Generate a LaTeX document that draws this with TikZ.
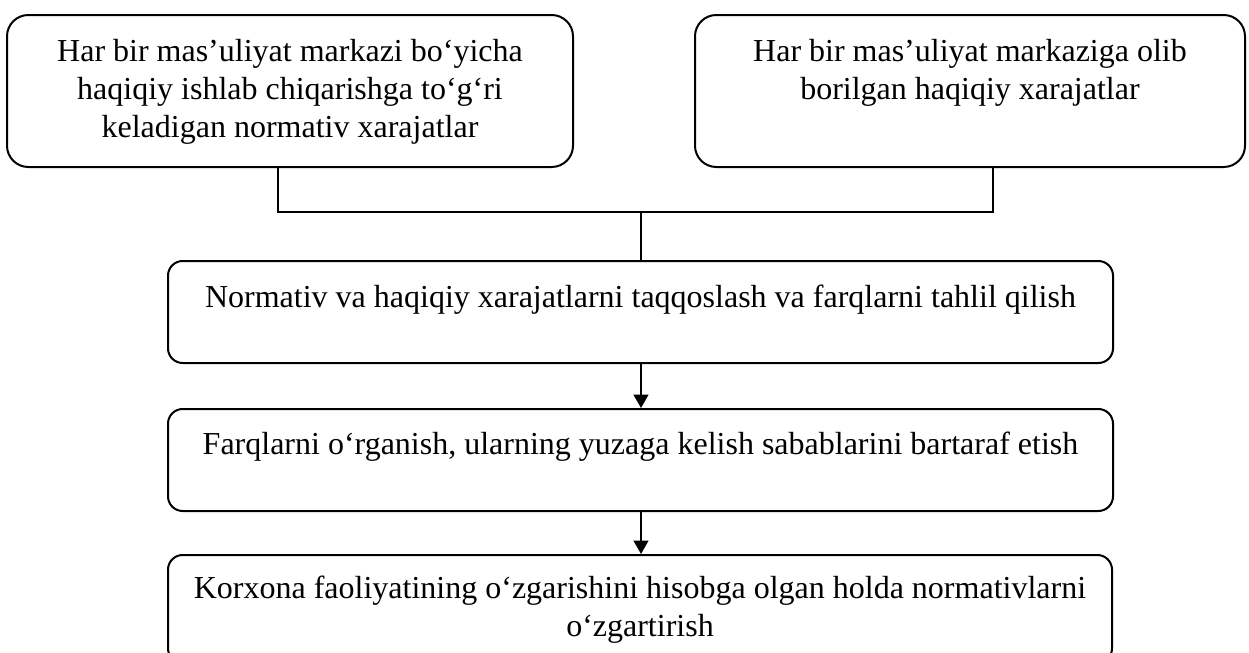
\documentclass[tikz,border=0pt]{standalone}
\usepackage{fontspec}
\setmainfont{Liberation Serif}
\usetikzlibrary{arrows.meta}
\newcommand\btext[4]{\parbox[c][#2][t]{#1}{\centering\rule{0pt}{#3}#4}}
\tikzset{
  boxbig/.style={draw, line width=1.5pt, rounded corners=16pt, inner sep=0pt, font=\fontsize{24}{28.5}\selectfont},
  boxmid/.style={draw, line width=1.5pt, rounded corners=11pt, inner sep=0pt, font=\fontsize{24}{28.5}\selectfont},
  conn/.style={line width=1.1pt},
  arr/.style={line width=1.5pt, -{Triangle[length=10pt,width=11pt]}}
}
\begin{document}
\begin{tikzpicture}[x=0.75pt,y=-0.75pt]
\clip (0,0) rectangle (1249,653);
\fill[white] (0,0) rectangle (1249,653);
\node[boxbig] (a) at (290,91) {\btext{424.5pt}{114pt}{34.5pt}{Har bir mas’uliyat markazi bo‘yicha\\ haqiqiy ishlab chiqarishga to‘g‘ri\\ keladigan normativ xarajatlar}};
\node[boxbig] (b) at (970,91) {\btext{412.5pt}{114pt}{34.5pt}{Har bir mas’uliyat markaziga olib\\ borilgan haqiqiy xarajatlar}};
\node[boxmid] (m1) at (640.5,312) {\btext{708.75pt}{76.5pt}{34.5pt}{Normativ va haqiqiy xarajatlarni taqqoslash va farqlarni tahlil qilish}};
\node[boxmid] (m2) at (640.5,460) {\btext{708.75pt}{76.5pt}{34pt}{Farqlarni o‘rganish, ularning yuzaga kelish sabablarini bartaraf etish}};
\node[boxmid] (m3) at (640,609) {\btext{708pt}{81pt}{32.25pt}{Korxona faoliyatining o‘zgarishini hisobga olgan holda normativlarni\\ o‘zgartirish}};
\coordinate (la) at (278,212);
\coordinate (lb) at (993,212);
\coordinate (j) at (641,212);
\draw[conn] (la |- a.south) -- (la) -- (lb) -- (lb |- b.south);
\draw[conn] (j) -- (j |- m1.north);
\draw[arr] (j |- m1.south) -- (j |- m2.north);
\draw[arr] (j |- m2.south) -- (j |- m3.north);
\end{tikzpicture}
\end{document}
